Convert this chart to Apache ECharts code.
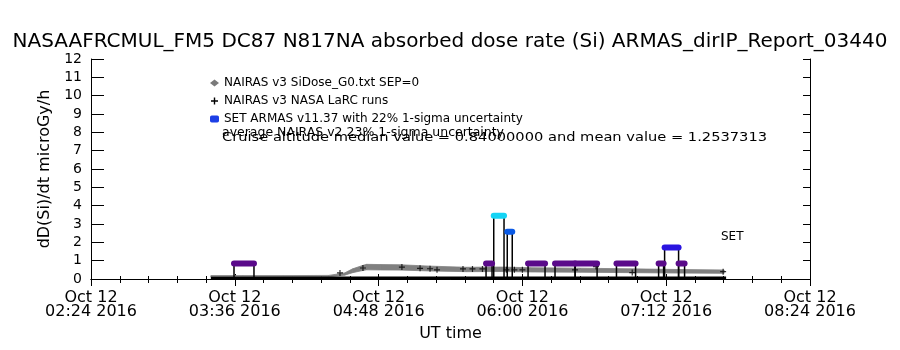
<!DOCTYPE html>
<html><head><meta charset="utf-8">
<script src="https://cdn.jsdelivr.net/npm/echarts@6/dist/echarts.min.js"></script>
<style>html,body{margin:0;padding:0;background:#fff}#c{width:900px;height:350px}</style>
</head><body><div id="c"></div>
<script>
// ---------- texts ----------
const titleText = 'NASAAFRCMUL_FM5 DC87 N817NA absorbed dose rate (Si) ARMAS_dirIP_Report_03440';
const yTitle = 'dD(Si)/dt microGy/h';
const xTitle = 'UT time';
const dateText = 'Oct 12';
const yearText = '2016';
const legendNames = ['NAIRAS v3 SiDose_G0.txt SEP=0', 'NAIRAS v3 NASA LaRC runs', 'SET ARMAS v11.37 with 22% 1-sigma uncertainty'];
const noteLines = ['average NAIRAS v2 23% 1-sigma uncertainty', 'Cruise altitude median value = 0.84000000 and mean value = 1.2537313'];
const setLabel = 'SET';

// ---------- axes ----------
const xStart = '02:24', xEnd = '08:24';
const xStepMinutes = 72;
const yMin = 0, yMax = 12, yStep = 1;

// ---------- NAIRAS v3 SiDose G0 (centre values, band = 23% uncertainty) ----------
const nairasTimes  = ['03:24','03:40','04:00','04:23','04:31','04:35','04:40','04:42','04:49','04:59','05:14','05:32','05:49','06:04','06:29','06:54','07:19','07:41'];
const nairasValues = [0.15, 0.15, 0.15, 0.16, 0.27, 0.45, 0.60, 0.65, 0.64, 0.63, 0.57, 0.52, 0.53, 0.50, 0.48, 0.45, 0.42, 0.40];
const nairasUncert = 0.23;

// ---------- NAIRAS v3 NASA LaRC runs ----------
const larcTraceTimes  = ['03:24','04:23','05:00','06:00','07:00','07:42'];
const larcTraceValues = [0.04, 0.05, 0.06, 0.06, 0.06, 0.06];
const larcPointTimes  = ['04:28:40','04:40:10','04:59:40','05:08:45','05:13:45','05:17:15','05:30:15','05:35:00','05:40:00','05:52:00','05:56:00','06:00:00','06:26:20','06:36:50','06:55:00','07:40:30'];
const larcPointValues = [0.33, 0.60, 0.65, 0.58, 0.56, 0.50, 0.55, 0.55, 0.55, 0.50, 0.50, 0.50, 0.50, 0.68, 0.35, 0.40];

// ---------- SET ARMAS v11.37 segments ----------
const setStarts = ['03:35:36','05:41:48','05:45:39','05:52:25','06:02:50','06:16:20','06:26:24','06:47:06','07:08:12','07:11:12','07:18:12'];
const setEnds   = ['03:45:36','05:44:48','05:50:48','05:54:55','06:11:20','06:26:24','06:37:24','06:56:40','07:10:42','07:18:12','07:21:12'];
const setValues = [0.84, 0.84, 3.45, 2.58, 0.84, 0.84, 0.84, 0.84, 0.84, 1.72, 0.84];
const setBase = 0.05;

// ---------- helpers ----------
function toMin(s) { const p = s.split(':').map(Number); return p[0] * 60 + p[1] + (p[2] || 0) / 60; }
function pad(n) { return (n < 10 ? '0' : '') + n; }
const FONT = 'DejaVu Sans';

// band pieces: [t0, lo0, hi0, t1, lo1, hi1]
const nairasBand = [];
for (let i = 0; i < nairasTimes.length - 1; i++) {
  const a = nairasValues[i], b = nairasValues[i + 1];
  nairasBand.push([toMin(nairasTimes[i]), a * (1 - nairasUncert), a * (1 + nairasUncert),
                   toMin(nairasTimes[i + 1]), b * (1 - nairasUncert), b * (1 + nairasUncert)]);
}
const larcTrace = larcTraceTimes.map((t, i) => [toMin(t), larcTraceValues[i]]);
const larcPoints = larcPointTimes.map((t, i) => [toMin(t), larcPointValues[i]]);
const setData = setStarts.map((t, i) => [toMin(t), toMin(setEnds[i]), setValues[i]]);

const plusPath = 'path://M4,0 L6,0 L6,4 L10,4 L10,6 L6,6 L6,10 L4,10 L4,6 L0,6 L0,4 L4,4 Z';
const BAND = '#808080';

const chart = echarts.init(document.getElementById('c'), null, { renderer: 'canvas' });
const xMin = toMin(xStart), xMax = toMin(xEnd);

const option = {
  animation: false,
  backgroundColor: '#fff',
  title: {
    text: titleText, left: 'center', top: 27,
    textStyle: { fontFamily: FONT, fontSize: 20, fontWeight: 'normal', color: '#000' }
  },
  grid: { left: 91, right: 90, top: 59, bottom: 71, containLabel: false },
  xAxis: [{
    type: 'value', min: xMin, max: xMax, interval: xStepMinutes, position: 'bottom',
    name: xTitle, nameLocation: 'middle', nameGap: 47,
    nameTextStyle: { fontFamily: FONT, fontSize: 16, color: '#000' },
    axisLine: { show: true, lineStyle: { color: '#000', width: 1 } },
    axisTick: { show: true, inside: true, length: 5, lineStyle: { color: '#000' } },
    minorTick: { show: true, splitNumber: 5, length: 3, lineStyle: { color: '#000' } },
    splitLine: { show: false },
    axisLabel: {
      show: true, margin: 12, fontFamily: FONT, fontSize: 16, lineHeight: 14, color: '#000',
      showMinLabel: true, showMaxLabel: true,
      formatter: v => { const h = Math.floor(v / 60), m = Math.round(v - h * 60); return dateText + '\n' + pad(h) + ':' + pad(m) + ' ' + yearText; }
    }
  }, {
    type: 'value', min: xMin, max: xMax, interval: xStepMinutes, position: 'top',
    axisLine: { show: true, lineStyle: { color: '#000', width: 1 } },
    axisTick: { show: true, inside: true, length: 7, lineStyle: { color: '#000' } },
    minorTick: { show: true, splitNumber: 5, length: 4, lineStyle: { color: '#000' } },
    splitLine: { show: false }, axisLabel: { show: false }
  }],
  yAxis: [{
    type: 'value', min: yMin, max: yMax, interval: yStep, position: 'left',
    name: yTitle, nameLocation: 'middle', nameGap: 35, nameRotate: 90,
    nameTextStyle: { fontFamily: FONT, fontSize: 16, color: '#000' },
    axisLine: { show: true, lineStyle: { color: '#000', width: 1 } },
    axisTick: { show: true, inside: true, length: 13, lineStyle: { color: '#000' } },
    splitLine: { show: false },
    axisLabel: { margin: 9, fontFamily: FONT, fontSize: 14, color: '#000' }
  }, {
    type: 'value', min: yMin, max: yMax, interval: yStep, position: 'right',
    axisLine: { show: true, lineStyle: { color: '#000', width: 1 } },
    axisTick: { show: true, inside: true, length: 7, lineStyle: { color: '#000' } },
    splitLine: { show: false }, axisLabel: { show: false }
  }],
  legend: {
    orient: 'vertical', left: 205, top: 72, itemWidth: 9, itemHeight: 7, itemGap: 6,
    selectedMode: false,
    textStyle: { fontFamily: FONT, fontSize: 12, lineHeight: 12, color: '#000' },
    data: [
      { name: legendNames[0], icon: 'diamond', itemStyle: { color: '#7a7a7a' } },
      { name: legendNames[1], icon: plusPath, itemStyle: { color: '#000' } },
      { name: legendNames[2], icon: 'roundRect', itemStyle: { color: '#1c3fe6' } }
    ]
  },
  visualMap: {
    type: 'piecewise', show: false, seriesIndex: 3, dimension: 2,
    pieces: [
      { lt: 1.2, color: '#5a0a8a' },
      { gte: 1.2, lt: 2.2, color: '#2a14e0' },
      { gte: 2.2, lt: 3.0, color: '#0a5ae6' },
      { gte: 3.0, color: '#14d4f5' }
    ]
  },
  graphic: [
    { type: 'text', x: 222, y: 127, scaleX: 1.04, z: 100, style: { text: noteLines[0], font: '12px "DejaVu Sans"', fill: '#000' } },
    { type: 'text', x: 222, y: 132, scaleX: 1.22, z: 100, style: { text: noteLines[1], font: '12px "DejaVu Sans"', fill: '#000' } },
    { type: 'text', x: 721, y: 231, z: 100, style: { text: setLabel, font: '12px "DejaVu Sans"', fill: '#000' } }
  ],
  series: [
    { // 0: NAIRAS uncertainty band
      name: legendNames[0], type: 'custom', data: nairasBand, z: 2, silent: true,
      itemStyle: { color: BAND },
      encode: { x: [0, 3], y: [1, 2, 4, 5] },
      renderItem: function (params, api) {
        const p0 = api.coord([api.value(0), api.value(1)]);
        const p1 = api.coord([api.value(3), api.value(4)]);
        const p2 = api.coord([api.value(3), api.value(5)]);
        const p3 = api.coord([api.value(0), api.value(2)]);
        return {
          type: 'polygon', shape: { points: [p0, p1, p2, p3] },
          style: { fill: BAND, stroke: BAND, lineWidth: 0.8 }
        };
      }
    },
    { // 1: LaRC low trace
      name: legendNames[1], type: 'line', data: larcTrace, showSymbol: false,
      lineStyle: { width: 3, color: '#000' }, itemStyle: { color: '#000' }, z: 3, silent: true
    },
    { // 2: LaRC '+' points
      name: legendNames[1], type: 'scatter', data: larcPoints, symbol: plusPath, symbolSize: 6,
      itemStyle: { color: '#000' }, z: 4, silent: true
    },
    { // 3: SET ARMAS segments
      name: legendNames[2], type: 'custom', data: setData, z: 5, silent: true,
      encode: { x: [0, 1], y: 2 },
      renderItem: function (params, api) {
        const s = api.coord([api.value(0), api.value(2)]);
        const e = api.coord([api.value(1), api.value(2)]);
        const b = api.coord([api.value(0), setBase])[1];
        const color = api.visual('color');
        return {
          type: 'group', children: [
            { type: 'line', z2: 1, shape: { x1: s[0], y1: s[1], x2: s[0], y2: b }, style: { stroke: '#000', lineWidth: 1.5 } },
            { type: 'line', z2: 1, shape: { x1: e[0], y1: e[1], x2: e[0], y2: b }, style: { stroke: '#000', lineWidth: 1.5 } },
            { type: 'line', z2: 10, shape: { x1: s[0], y1: s[1], x2: e[0], y2: e[1] }, style: { stroke: color, lineWidth: 6, lineCap: 'round' } }
          ]
        };
      }
    }
  ]
};
chart.setOption(option);
</script>
</body></html>
